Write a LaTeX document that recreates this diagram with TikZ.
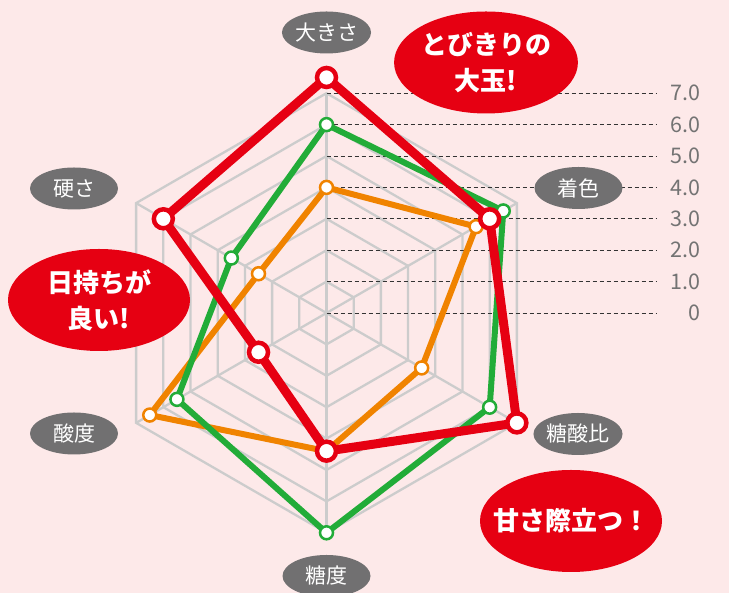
\documentclass[tikz,border=0pt]{standalone}
\usepackage{fontspec}
\setmainfont{Noto Sans CJK JP}
\usepackage{tikz}
\usetikzlibrary{shapes.geometric}
\definecolor{bgpink}{RGB}{253,233,233}
\definecolor{chartred}{RGB}{230,0,18}
\definecolor{chartgreen}{RGB}{34,172,56}
\definecolor{chartorange}{RGB}{240,131,0}
\definecolor{labelgray}{RGB}{113,112,113}
\definecolor{gridgray}{RGB}{204,204,204}
\newcommand\rstep{31.4}
\newcommand\radargrid[0]{
	% hexagons
	\foreach \r in {1,...,7} {
		\draw [gridline] (90:\r*\rstep) -- (30:\r*\rstep) -- (-30:\r*\rstep) -- (-90:\r*\rstep) -- (-150:\r*\rstep) -- (150:\r*\rstep) -- cycle;
	}
	% spokes
	\foreach \a in {90,30,...,-210} {
		\draw [gridline] (0,0) -- (\a:7*\rstep);
	}
	% scale
	\foreach \k/\t in {0/0,1/1.0,2/2.0,3/3.0,4/4.0,5/5.0,6/6.0,7/7.0} {
		\draw [scaleline] (0,\k*\rstep) -- (330.5,\k*\rstep);
		\node [scalelabel] (val\k) at (374.5,\k*\rstep) {\t};
	}
}

\begin{document}
\begin{tikzpicture}[x=1pt, y=1pt,
	gridline/.style={gridgray, line width=2.3pt},
	scaleline/.style={black!80, line width=0.8pt, dash pattern=on 4pt off 3pt},
	scalelabel/.style={anchor=east, inner sep=0pt, text=black!55, font=\fontsize{21.5}{24}\selectfont},
	axislabel/.style={ellipse, fill=labelgray, text=white, inner sep=0pt, minimum width=88pt, minimum height=42pt, font=\fontsize{21}{24}\selectfont},
	bubble/.style={ellipse, fill=chartred, text=white, inner sep=0pt, align=center, minimum width=182pt, minimum height=102pt, font=\bfseries\fontsize{26}{36}\selectfont},
	redmark/.style={circle, draw=chartred, fill=white, line width=4.5pt, inner sep=0pt, minimum size=19pt},
	smallmark/.style={circle, draw=#1, fill=white, line width=2.5pt, inner sep=0pt, minimum size=13pt}]
	\useasboundingbox (0,0) rectangle (729,593);
	\fill [bgpink] (0,0) rectangle (729,593);
	
	\begin{scope}[shift={(326.5,280)}]
	\radargrid
	
	% orange
	\foreach \v [count=\i] in {4.0,5.5,3.5,4.4,6.5,2.5} {
		\coordinate (orange\i) at ({150-60*\i}:\v*\rstep);
	}
	\draw [chartorange, line width=6pt, line join=round] (orange1) -- (orange2) -- (orange3) -- (orange4) -- (orange5) -- (orange6) -- cycle;
	\foreach \i in {1,2,3,5,6} {
		\node [smallmark=chartorange] (om\i) at (orange\i) {};
	}
	
	% green
	\foreach \v [count=\i] in {6.0,6.5,6.0,7.0,5.5,3.5} {
		\coordinate (green\i) at ({150-60*\i}:\v*\rstep);
	}
	\draw [chartgreen, line width=6pt, line join=round] (green1) -- (green2) -- (green3) -- (green4) -- (green5) -- (green6) -- cycle;
	\foreach \i in {1,...,6} {
		\node [smallmark=chartgreen] (gm\i) at (green\i) {};
	}
	
	% red
	\foreach \v [count=\i] in {7.5,6.0,7.0,4.4,2.5,6.0} {
		\coordinate (red\i) at ({150-60*\i}:\v*\rstep);
	}
	\draw [chartred, line width=9pt, line join=round] (red1) -- (red2) -- (red3) -- (red4) -- (red5) -- (red6) -- cycle;
	\foreach \i in {1,...,6} {
		\node [redmark] (rm\i) at (red\i) {};
	}
	\end{scope}
	
	% axis names
	\node [axislabel] (size) at (326.5,560.5) {大きさ};
	\node [axislabel] (colour) at (578.5,405) {着色};
	\node [axislabel] (ratio) at (578,159) {糖酸比};
	\node [axislabel] (sugar) at (326.5,17) {糖度};
	\node [axislabel] (acid) at (74,159.5) {酸度};
	\node [axislabel] (firm) at (74,404.5) {硬さ};
	
	% bubbles
	\node [bubble] (big) at (486,530.5) {とびきりの\\大玉!};
	\node [bubble] (keeps) at (99,293) {日持ちが\\良い!};
	\node [bubble] (sweet) at (571,72) {\makebox[0pt]{甘さ際立つ！}};
\end{tikzpicture}
\end{document}
